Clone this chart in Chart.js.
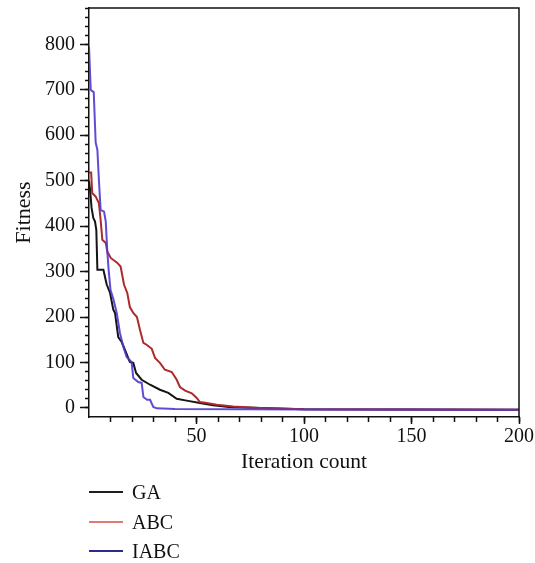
<!DOCTYPE html>
<html>
<head>
<meta charset="utf-8">
<script src="https://cdn.jsdelivr.net/npm/chart.js@4.4.1/dist/chart.umd.min.js"></script>
<style>
  html, body { margin: 0; padding: 0; background: #fff; }
  #wrap { position: relative; width: 535px; height: 563px; }
  #chart { position: absolute; left: 0; top: 0; }
  .leg { position: absolute; left: 89px; height: 24px; font: 20px "Liberation Serif", "DejaVu Serif", serif; color: #111; }
  .leg span.ln { position: absolute; left: 0; top: 11px; width: 34px; height: 2px; }
  .leg span.tx { position: absolute; left: 43px; top: 0; line-height: 24px; white-space: nowrap; }
</style>
</head>
<body>
<div id="wrap">
  <canvas id="chart" width="535" height="563"></canvas>
</div>
<script>
// series
var seriesNames = ['GA', 'ABC', 'IABC'];
var lineColors = ['#151515', '#ae2a2a', 'rgba(76,56,208,0.9)'];
var legendColors = ['#1e1e1e', '#e07a72', '#2b2b8f'];

var gaX = [0, 0.5, 1.2, 2, 2.8, 3.4, 3.9, 6.7, 8.2, 9.8, 11.3, 12.1, 13.6, 15.2, 16.7, 19, 20.6, 21.9, 24.5, 28.4, 33, 36.9, 40.8, 45.4, 51.6, 57.7, 65, 80, 100, 200];
var gaY = [500, 480, 440, 418, 410, 392, 304, 304, 272, 253, 216, 209, 156, 145, 128, 101, 99, 77, 62, 51, 40, 33, 20, 16, 11, 6, 2, 0, -3, -4];

var abcX = [0, 1, 1.5, 3.1, 4.6, 5.4, 6.2, 7.8, 8.5, 10.1, 13.2, 14.7, 16.3, 17.8, 19, 20.6, 22.3, 23.7, 25.3, 26.8, 29.2, 30.7, 33, 35.3, 38.5, 40.8, 42.3, 44.7, 47.8, 50.1, 51.6, 54.7, 59.4, 67, 79.5, 100, 200];
var abcY = [518, 518, 473, 465, 451, 414, 370, 363, 344, 330, 319, 311, 271, 253, 222, 209, 200, 172, 143, 139, 130, 110, 99, 84, 79, 62, 46, 38, 32, 22, 13, 11, 7, 3, 0, -3, -4];

var iabcX = [0, 0.8, 1.2, 2.2, 3.1, 3.9, 4.6, 5.4, 7, 7.8, 8.5, 9.2, 10, 11.3, 12.9, 14.4, 16, 17.5, 19.8, 20.6, 22.9, 24.5, 25.3, 27, 28.4, 29.9, 31.5, 40, 100, 200];
var iabcY = [795, 700, 698, 695, 584, 568, 502, 436, 432, 410, 345, 300, 260, 240, 209, 165, 134, 112, 101, 66, 57, 55, 24, 18, 18, 2, -1, -2.5, -3.5, -4];

var xMajorTicks = [50, 100, 150, 200];
var yMajorTicks = [0, 100, 200, 300, 400, 500, 600, 700, 800];

function pts(xs, ys) {
  return xs.map(function(x, i){ return {x: x, y: ys[i]}; });
}
function fixTicks(list) {
  return function(s){ s.ticks = list.map(function(v){ return {value: v}; }); };
}

var serif = '"Liberation Serif", "DejaVu Serif", serif';
var ink = '#111';
var clear = 'rgba(0,0,0,0)';

var frame = {
  id: 'frame',
  afterDraw: function(chart) {
    var a = chart.chartArea, c = chart.ctx;
    c.save();
    c.strokeStyle = ink;
    c.lineWidth = 1.5;
    c.beginPath();
    c.moveTo(a.left, a.top);
    c.lineTo(a.right, a.top);
    c.lineTo(a.right, a.bottom);
    c.stroke();
    c.restore();
  }
};

var allX = [gaX, abcX, iabcX], allY = [gaY, abcY, iabcY];
var datasets = seriesNames.map(function(name, i){
  return {
    label: name,
    data: pts(allX[i], allY[i]),
    borderColor: lineColors[i],
    borderWidth: 2,
    pointRadius: 0,
    tension: 0,
    fill: false,
    order: 3 - i
  };
});

new Chart(document.getElementById('chart'), {
  type: 'line',
  data: { datasets: datasets },
  options: {
    responsive: false,
    animation: false,
    layout: { padding: { left: 0, top: 8, right: 16, bottom: 88 } },
    plugins: { legend: { display: false }, tooltip: { enabled: false } },
    scales: {
      x: {
        type: 'linear', position: 'bottom', weight: 1,
        min: 0, max: 200,
        afterBuildTicks: fixTicks(xMajorTicks),
        ticks: {
          autoSkip: false, maxRotation: 0, padding: 1,
          color: ink, font: { family: serif, size: 20 },
          callback: function(v){ return String(v); }
        },
        grid: { drawOnChartArea: false, tickLength: 7, tickWidth: 1.5, tickColor: ink },
        border: { color: ink, width: 1.5 },
        title: { display: true, text: 'Iteration count', color: ink, font: { family: serif, size: 21.5 }, padding: { top: 0, bottom: 0 } },
        afterFit: function(s){ s.height = 58; s.paddingLeft = 0; s.paddingRight = 0; }
      },
      x2: {
        type: 'linear', position: 'bottom', weight: 0,
        min: 0, max: 200,
        ticks: { display: false, stepSize: 10, maxTicksLimit: 1000 },
        grid: {
          drawOnChartArea: false, tickLength: 5, tickWidth: 1.5,
          tickColor: function(c){ return c.tick && c.tick.value === 0 ? clear : ink; }
        },
        border: { display: false },
        afterFit: function(s){ s.height = 0; s.paddingLeft = 0; s.paddingRight = 0; }
      },
      y: {
        type: 'linear', position: 'left', weight: 1,
        min: -20, max: 880,
        afterBuildTicks: fixTicks(yMajorTicks),
        ticks: {
          autoSkip: false, padding: 5,
          color: ink, font: { family: serif, size: 20 },
          callback: function(v){ return String(v); }
        },
        grid: { drawOnChartArea: false, tickLength: 9, tickWidth: 1.5, tickColor: ink },
        border: { color: ink, width: 1.5 },
        title: { display: true, text: 'Fitness', color: ink, font: { family: serif, size: 22 }, padding: { top: 11, bottom: 0 } },
        afterFit: function(s){ s.width = 89; s.paddingTop = 0; s.paddingBottom = 0; }
      },
      y2: {
        type: 'linear', position: 'left', weight: 0,
        min: -20, max: 880,
        ticks: { display: false, stepSize: 20, maxTicksLimit: 1000 },
        grid: {
          drawOnChartArea: false, tickLength: 4, tickWidth: 1.5,
          tickColor: function(c){ return c.tick && c.tick.value === -20 ? clear : ink; }
        },
        border: { display: false },
        afterFit: function(s){ s.width = 0; s.paddingTop = 0; s.paddingBottom = 0; }
      }
    }
  },
  plugins: [frame]
});

// legend below the plot, one row per series
var wrap = document.getElementById('wrap');
var legendTops = [480, 510, 539];
seriesNames.forEach(function(name, i){
  var row = document.createElement('div');
  row.className = 'leg';
  row.style.top = legendTops[i] + 'px';
  var ln = document.createElement('span');
  ln.className = 'ln';
  ln.style.background = legendColors[i];
  var tx = document.createElement('span');
  tx.className = 'tx';
  tx.textContent = name;
  row.appendChild(ln);
  row.appendChild(tx);
  wrap.appendChild(row);
});
</script>
</body>
</html>
